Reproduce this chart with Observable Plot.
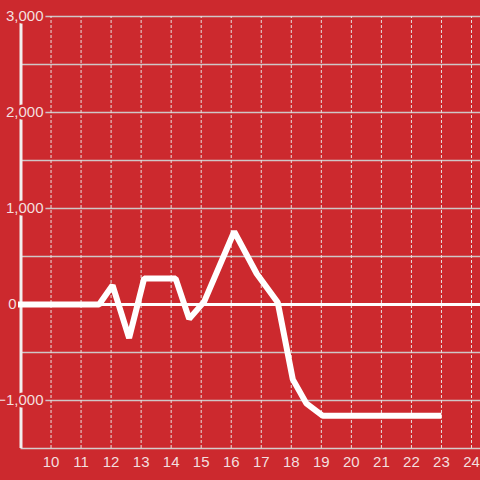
<!DOCTYPE html>
<html>
<head>
<meta charset="utf-8">
<script src="https://cdn.jsdelivr.net/npm/d3@7"></script>
<script src="https://cdn.jsdelivr.net/npm/@observablehq/plot@0.6"></script>
<style>
  html, body { margin: 0; padding: 0; background: #cc292e; }
  #chart svg { display: block; }
</style>
</head>
<body>
<div id="chart"></div>
<script>
// Data
const times  = [8.9, 11.6, 12.05, 12.6, 13.1, 14.15, 14.6, 15.1, 16.1, 16.85, 17.55, 18.05, 18.5, 19.05, 23];
const values = [0,   0,    200,   -350, 270,  270,   -150, 30,   760,  320,   20,    -780,  -1030, -1160, -1160];
const xTicks = [10, 11, 12, 13, 14, 15, 16, 17, 18, 19, 20, 21, 22, 23, 24];
const yLabelTicks = [-1000, 1000, 2000, 3000];
const yGridTicks = [-1000, -500, 0, 500, 1000, 1500, 2000, 2500, 3000];

const bg = "#cc292e";
const labelColor = "#f3dfdf";
const series = times.map((t, i) => ({t, v: values[i]}));

const chart = Plot.plot({
  width: 480,
  height: 480,
  marginLeft: 20.5,
  marginRight: 0,
  marginTop: 16,
  marginBottom: 32,
  style: {background: bg, fontFamily: "'Liberation Sans', Arial, sans-serif", fontSize: "15px", overflow: "visible"},
  x: {domain: [9, 24.3], axis: null},
  y: {domain: [-1500, 3000], axis: null},
  marks: [
    // horizontal grid
    Plot.ruleY(yGridTicks, {stroke: "#cfc6c6", strokeWidth: 1.3}),
    // bottom axis line
    Plot.ruleY([-1500], {stroke: "#d6cccc", strokeWidth: 1.5}),
    // vertical dashed grid
    Plot.ruleX(xTicks, {y1: -1500, y2: 3000, stroke: "#e8e0e0", strokeWidth: 1, strokeDasharray: "3,2"}),
    // zero line
    Plot.ruleY([0], {stroke: "#ffffff", strokeWidth: 3}),
    // y axis line
    Plot.ruleX([9], {y1: -1500, y2: 3000, stroke: "#f2eeee", strokeWidth: 3}),
    // y labels with background halo
    Plot.text(yLabelTicks, {
      x: 9, y: d => d, text: d => d3.format(",")(d),
      textAnchor: "end", dx: 22.5, fill: labelColor,
      stroke: bg, strokeWidth: 5, paintOrder: "stroke", fontSize: 15
    }),
    Plot.text([0], {
      x: 9, y: d => d, text: d => String(d),
      textAnchor: "end", dx: -4.5, fill: labelColor, fontSize: 15
    }),
    // x labels
    Plot.text(xTicks, {
      x: d => d, y: -1500, text: d => String(d),
      dy: 14, fill: labelColor, fontSize: 15
    }),
    // data line
    Plot.line(series, {x: "t", y: "v", stroke: "#ffffff", strokeWidth: 6, strokeLinejoin: "miter", strokeLinecap: "butt"})
  ]
});
document.getElementById("chart").append(chart);
</script>
</body>
</html>
